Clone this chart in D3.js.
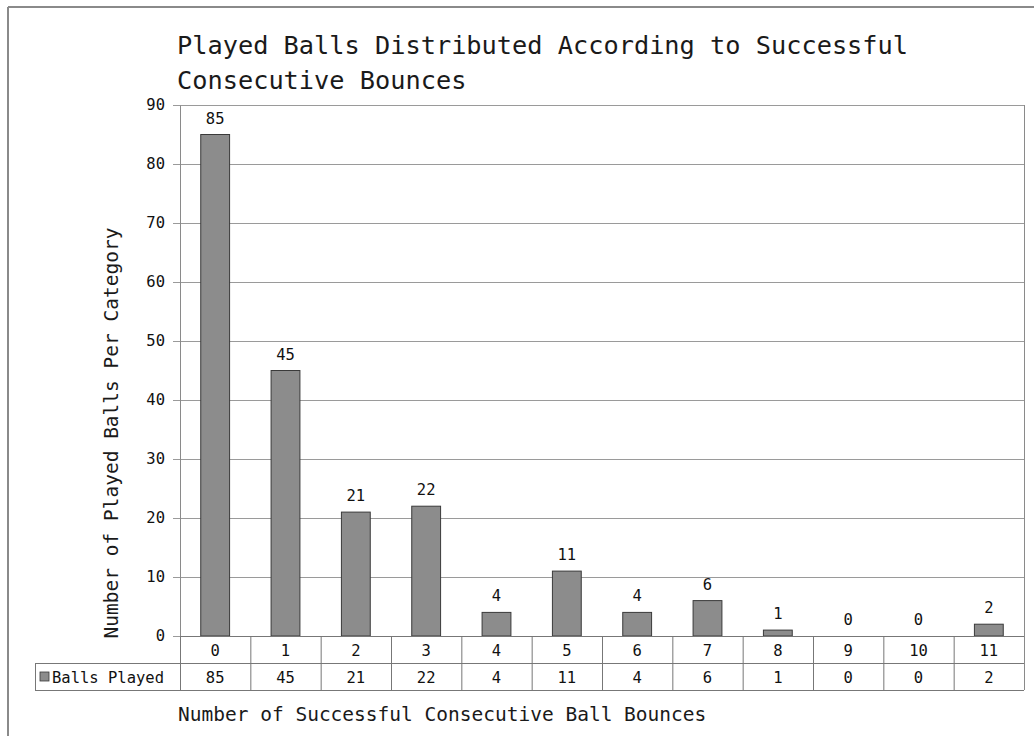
<!DOCTYPE html>
<html><head><meta charset="utf-8">
<script src="https://cdn.jsdelivr.net/npm/d3@7"></script>
<style>html,body{margin:0;padding:0;background:#fff;}svg{display:block;}</style>
</head><body>
<svg id="chart" width="1034" height="736"></svg>
<script>
const titleLines = ["Played Balls Distributed According to Successful", "Consecutive Bounces"];
const categories = ["0","1","2","3","4","5","6","7","8","9","10","11"];
const seriesName = "Balls Played";
const values = [85,45,21,22,4,11,4,6,1,0,0,2];
const yTicks = [0,10,20,30,40,50,60,70,80,90];
const yTitle = "Number of Played Balls Per Category";
const xTitle = "Number of Successful Consecutive Ball Bounces";

const FONT = "'DejaVu Sans Mono', 'Liberation Mono', monospace";
const svg = d3.select("#chart");
const W = 1034, H = 736;
const L = 180, R = 1024, T = 105, B = 636, rowH = 27, legL = 35;
const NUM = 15.5;

// page frame
svg.append("line").attr("x1",8).attr("x2",W).attr("y1",7).attr("y2",7).attr("stroke","#8a8a8a").attr("stroke-width",2);
svg.append("line").attr("x1",8).attr("x2",8).attr("y1",7).attr("y2",H).attr("stroke","#8a8a8a").attr("stroke-width",2);

const x = d3.scaleBand().domain(categories).range([L,R]).padding(0);
const y = d3.scaleLinear().domain([0,90]).range([B,T]);

// gridlines
svg.append("g").selectAll("line").data(yTicks).join("line")
  .attr("x1",L-7).attr("x2",R).attr("y1",d=>y(d)+0.5).attr("y2",d=>y(d)+0.5)
  .attr("stroke","#9a9a9a").attr("stroke-width",1);

// y axis
const yAxis = d3.axisLeft(y).tickValues(yTicks).tickSize(0).tickPadding(15);
const gy = svg.append("g").attr("transform",`translate(${L},0)`).call(yAxis);
gy.select(".domain").attr("stroke","#8a8a8a");
gy.selectAll("text").attr("font-family",FONT).attr("font-size",NUM).attr("fill","#111");
// right border
svg.append("line").attr("x1",R+0.5).attr("x2",R+0.5).attr("y1",T).attr("y2",B+2*rowH).attr("stroke","#8a8a8a");

// bars
const bw = x.bandwidth()*0.41;
svg.append("g").selectAll("rect").data(values).join("rect")
  .attr("x",(d,i)=>x(categories[i])+x.bandwidth()/2-bw/2)
  .attr("y",d=>y(d))
  .attr("width",bw)
  .attr("height",d=>B-y(d))
  .attr("fill","#8c8c8c").attr("stroke","#3a3a3a").attr("stroke-width",1);

// value labels
svg.append("g").selectAll("text").data(values).join("text")
  .attr("x",(d,i)=>x(categories[i])+x.bandwidth()/2)
  .attr("y",d=>y(d)-11)
  .attr("text-anchor","middle")
  .attr("font-family",FONT).attr("font-size",NUM).attr("fill","#111")
  .text(d=>d);

// data table
const tg = svg.append("g");
const lc = "#777";
tg.append("line").attr("x1",L).attr("x2",R).attr("y1",B+0.5).attr("y2",B+0.5).attr("stroke",lc);
tg.append("line").attr("x1",legL).attr("x2",R).attr("y1",B+rowH+0.5).attr("y2",B+rowH+0.5).attr("stroke",lc);
tg.append("line").attr("x1",legL).attr("x2",R).attr("y1",B+2*rowH+0.5).attr("y2",B+2*rowH+0.5).attr("stroke",lc);
tg.append("line").attr("x1",legL+0.5).attr("x2",legL+0.5).attr("y1",B+rowH).attr("y2",B+2*rowH).attr("stroke",lc);
tg.selectAll("line.v").data(categories).join("line").attr("class","v")
  .attr("x1",d=>x(d)+0.5).attr("x2",d=>x(d)+0.5).attr("y1",B).attr("y2",B+2*rowH).attr("stroke",lc);
tg.selectAll("text.cat").data(categories).join("text").attr("class","cat")
  .attr("x",d=>x(d)+x.bandwidth()/2).attr("y",B+19.5)
  .attr("text-anchor","middle").attr("font-family",FONT).attr("font-size",NUM).attr("fill","#111")
  .text(d=>d);
tg.selectAll("text.val").data(values).join("text").attr("class","val")
  .attr("x",(d,i)=>x(categories[i])+x.bandwidth()/2).attr("y",B+rowH+19.5)
  .attr("text-anchor","middle").attr("font-family",FONT).attr("font-size",NUM).attr("fill","#111")
  .text(d=>d);
// legend key
tg.append("rect").attr("x",legL+5).attr("y",B+rowH+9).attr("width",9).attr("height",9)
  .attr("fill","#8c8c8c").attr("stroke","#3a3a3a").attr("stroke-width",0.8);
tg.append("text").attr("x",legL+17).attr("y",B+rowH+19.5)
  .attr("font-family",FONT).attr("font-size",NUM).attr("fill","#111").text(seriesName);

// titles
svg.append("g").selectAll("text").data(titleLines).join("text")
  .attr("x",177).attr("y",(d,i)=>54+i*35)
  .attr("font-family",FONT).attr("font-size",25.3).attr("fill","#1a1a1a")
  .text(d=>d);
svg.append("text").attr("transform",`translate(118,433) rotate(-90)`)
  .attr("text-anchor","middle").attr("font-family",FONT).attr("font-size",19.5).attr("fill","#1a1a1a")
  .text(yTitle);
svg.append("text").attr("x",178).attr("y",721)
  .attr("font-family",FONT).attr("font-size",19.5).attr("fill","#1a1a1a")
  .text(xTitle);
</script>
</body></html>
